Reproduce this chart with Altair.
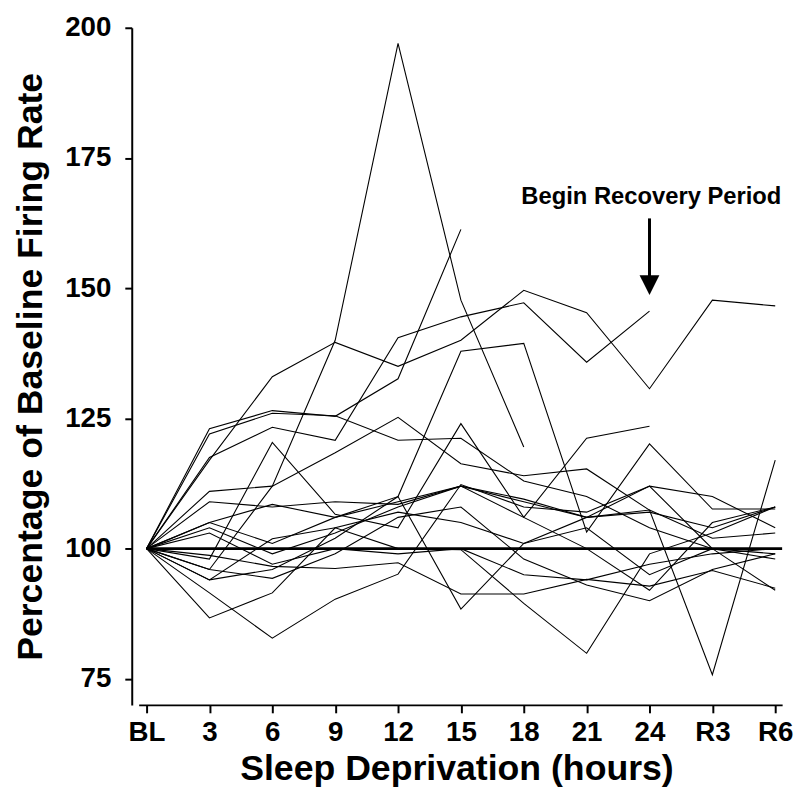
import altair as alt
import pandas as pd

x_labels = ["BL", "3", "6", "9", "12", "15", "18", "21", "24", "R3", "R6"]
y_ticks = [75, 100, 125, 150, 175, 200]

n1 = [100, 96, 112, 140, 197, 147.7, 119.5, None, None, None, None]
n2 = [100, 117, 133, 139.6, 135, 140, 149.6, 145.3, 130.7, 147.7, 146.6]
n3 = [100, 117.5, 123.3, 120.8, 140.5, 144.5, 147.2, 135.8, 145.6, None, None]
n4 = [100, 123, 126.5, 125.4, 132.6, 161.3, None, None, None, None, None]
n5 = [100, 94, 96, 102, 110, 137.9, 139.4, 103.2, 120.1, 107.6, 107.6]
n6 = [100, 105, 108.5, 106, 109, 112, 106, 121.2, 123.5, None, None]
n7 = [100, 111, 112, 118.4, 125.2, 116.3, 114, 115.3, 107.4, 102, 103]
n8 = [100, 122, 126, 125.5, 120.8, 121.2, 113, 110, 104, 100, 92]
n9 = [100, 91.5, 82.8, 90.3, 95.1, 112.3, 108, 107, 112, 100, 98]
n10 = [100, 105, 101, 106, 110, 88.4, 101, 106, 107, 104, 108]
n11 = [100, 98.7, 96.6, 96.2, 97.3, 91.3, 91.3, 94.1, 92.8, 95.8, 92.4]
n12 = [100, 94, 101.9, 104, 100, 99.8, 89.5, 79.9, 99, 103, 108]
n13 = [100, 104, 99, 103, 108, 112, 109, 106, 107.4, 75.8, 117]
n14 = [100, 86.7, 91.5, 104, 107, 105, 101, 104, 95, 100, 99]
n15 = [100, 109, 108, 109, 108.5, 112, 109.5, 106, 112, 110, 104]
n16 = [100, 96, 94.3, 99, 106, 108, 98, 93, 90, 96, 99]
n17 = [100, 103, 97, 100, 99, 100, 95, 94, 97, 99, 100]
n18 = [100, 98, 120.4, 106.6, 104, 124, 106, 100, 92, 105, 108]

series = [n1, n2, n3, n4, n5, n6, n7, n8, n9, n10, n11, n12, n13, n14, n15, n16, n17, n18]

rows = []
for i, s in enumerate(series):
    for j, v in enumerate(s):
        if v is not None:
            rows.append({"neuron": f"N{i + 1}", "t": j, "rate": v})
df = pd.DataFrame(rows)

baseline_df = pd.DataFrame({"x0": [0], "x1": [10.11], "y": [100]})
arrow_df = pd.DataFrame({"x": [8], "y0": [163.4], "y1": [152.0]})
head_df = pd.DataFrame({"x": [8], "y": [150.6]})
label_df = pd.DataFrame({"x": [8.03], "y": [167.4], "text": ["Begin Recovery Period"]})

FONT = "Liberation Sans, Arial, sans-serif"
xscale = alt.Scale(domain=[-0.126, 10.11], nice=False, zero=False)
yscale = alt.Scale(domain=[70, 200], nice=False, zero=False)

label_expr = "[" + ",".join(f"'{l}'" for l in x_labels) + "][datum.value]"

x_axis = alt.Axis(
    values=list(range(len(x_labels))),
    labelExpr=label_expr,
    title="Sleep Deprivation (hours)",
    titleX=321, titleY=75, titleAnchor="start", titleAlign="center",
    titleBaseline="alphabetic", titleFontSize=36,
    tickSize=8, labelPadding=6,
)
y_axis = alt.Axis(
    values=y_ticks,
    title="Percentage of Baseline Firing Rate",
    titleX=-102, titleY=342, titleAngle=-90, titleAlign="center",
    titleBaseline="middle", titleFontSize=36,
    offset=7, tickSize=7, labelPadding=14,
)

lines = alt.Chart(df).mark_line(color="black", strokeWidth=1.1).encode(
    x=alt.X("t:Q", scale=xscale, axis=x_axis),
    y=alt.Y("rate:Q", scale=yscale, axis=y_axis),
    detail="neuron:N",
)

base = alt.Chart(baseline_df).mark_rule(color="black", strokeWidth=3).encode(
    x=alt.X("x0:Q", scale=xscale), x2="x1:Q", y=alt.Y("y:Q", scale=yscale)
)

shaft = alt.Chart(arrow_df).mark_rule(color="black", strokeWidth=3).encode(
    x=alt.X("x:Q", scale=xscale), y=alt.Y("y0:Q", scale=yscale), y2="y1:Q"
)

head = alt.Chart(head_df).mark_point(
    shape="M-1,-1L1,-1L0,1Z", filled=True, color="black", size=400, opacity=1
).encode(x=alt.X("x:Q", scale=xscale), y=alt.Y("y:Q", scale=yscale))

label = alt.Chart(label_df).mark_text(
    font=FONT, fontSize=24, fontWeight="bold", color="black", align="center", baseline="middle"
).encode(x=alt.X("x:Q", scale=xscale), y=alt.Y("y:Q", scale=yscale), text="text:N")

chart = alt.layer(lines, base, shaft, head, label).properties(
    width=650, height=684,
    autosize=alt.AutoSizeParams(type="none"),
    padding={"left": 132, "top": 16, "right": 13, "bottom": 81},
).configure_view(stroke=None).configure_axis(
    grid=False, domainColor="black", domainWidth=2, tickColor="black", tickWidth=2,
    labelFont=FONT, labelFontSize=28, labelFontWeight="bold", labelColor="black",
    titleFont=FONT, titleFontWeight="bold", titleColor="black",
)

chart.save("out.html", embed_options={"renderer": "svg", "actions": False})
